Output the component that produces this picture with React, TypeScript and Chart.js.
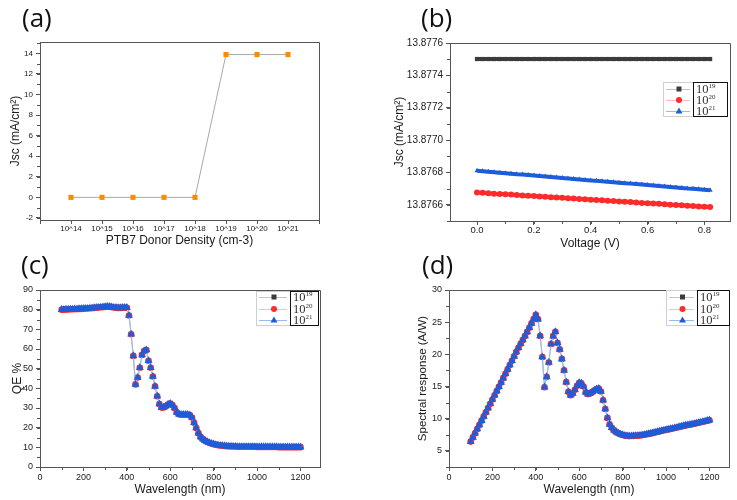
import React, { useEffect, useRef } from "react";
import { Chart, registerables } from "chart.js";
Chart.register(...registerables);
Chart.defaults.font.family = "'Liberation Sans', Arial, sans-serif";

// ---------- (a) Jsc vs PTB7 donor density ----------
const donorExponents = [14, 15, 16, 17, 18, 19, 20, 21];
const jscByDensity = [0, 0, 0, 0, 0, 13.88, 13.88, 13.88];

// ---------- (b) Jsc vs voltage ----------
const voltage = [
  0, 0.02, 0.04, 0.06, 0.08, 0.1, 0.12, 0.14, 0.16, 0.18, 0.2, 0.22, 0.24, 0.26,
  0.28, 0.3, 0.32, 0.34, 0.36, 0.38, 0.4, 0.42, 0.44, 0.46, 0.48, 0.5, 0.52, 0.54,
  0.56, 0.58, 0.6, 0.62, 0.64, 0.66, 0.68, 0.7, 0.72, 0.74, 0.76, 0.78, 0.8, 0.82,
];
const jsc19 = [
  13.877501, 13.877501, 13.877501, 13.877501, 13.877501, 13.877501, 13.877501,
  13.877501, 13.877501, 13.877501, 13.877501, 13.877501, 13.877501, 13.877501,
  13.877501, 13.877501, 13.877501, 13.877501, 13.877501, 13.877501, 13.877501,
  13.877501, 13.877501, 13.877501, 13.877501, 13.877501, 13.877501, 13.877501,
  13.877501, 13.877501, 13.877501, 13.877501, 13.877501, 13.877501, 13.877501,
  13.877501, 13.877501, 13.877501, 13.877501, 13.877501, 13.877501, 13.877501,
];
const jsc20 = [
  13.876676, 13.876674, 13.876672, 13.876669, 13.876667, 13.876665, 13.876663,
  13.876661, 13.876658, 13.876656, 13.876654, 13.876652, 13.87665, 13.876647,
  13.876645, 13.876643, 13.876641, 13.876639, 13.876636, 13.876634, 13.876632,
  13.87663, 13.876628, 13.876625, 13.876623, 13.876621, 13.876619, 13.876617,
  13.876614, 13.876612, 13.87661, 13.876608, 13.876606, 13.876603, 13.876601,
  13.876599, 13.876597, 13.876595, 13.876592, 13.87659, 13.876588, 13.876586,
];
const jsc21 = [
  13.87681, 13.876807, 13.876804, 13.876801, 13.876798, 13.876795, 13.876792,
  13.876789, 13.876787, 13.876784, 13.876781, 13.876778, 13.876775, 13.876772,
  13.876769, 13.876766, 13.876763, 13.87676, 13.876757, 13.876754, 13.876751,
  13.876748, 13.876745, 13.876743, 13.87674, 13.876737, 13.876734, 13.876731,
  13.876728, 13.876725, 13.876722, 13.876719, 13.876716, 13.876713, 13.87671,
  13.876707, 13.876704, 13.876701, 13.876699, 13.876696, 13.876693, 13.87669,
];

// ---------- (c), (d) spectra (the three doping levels overlap exactly) ----------
const wavelength = [
  100, 110, 120, 130, 140, 150, 160, 170, 180, 190, 200,
  210, 220, 230, 240, 250, 260, 270, 280, 290, 300,
  310, 320, 330, 340, 350, 360, 370, 380, 390, 400,
  410, 420, 430, 440, 450, 460, 470, 480, 490, 500,
  510, 520, 530, 540, 550, 560, 570, 580, 590, 600,
  610, 620, 630, 640, 650, 660, 670, 680, 690, 700,
  710, 720, 730, 740, 750, 760, 770, 780, 790, 800,
  810, 820, 830, 840, 850, 860, 870, 880, 890, 900,
  910, 920, 930, 940, 950, 960, 970, 980, 990, 1000,
  1010, 1020, 1030, 1040, 1050, 1060, 1070, 1080, 1090, 1100,
  1110, 1120, 1130, 1140, 1150, 1160, 1170, 1180, 1190, 1200,
];
const qePercent = [
  80.0, 80.0, 80.1, 80.1, 80.2, 80.2, 80.3, 80.3, 80.4, 80.4, 80.5,
  80.6, 80.6, 80.7, 80.8, 80.9, 81.0, 81.1, 81.2, 81.3, 81.4,
  81.5, 81.5, 81.3, 81.1, 81.0, 80.9, 80.9, 81.0, 81.0, 81.0,
  77.0, 67.5, 56.5, 42.0, 45.5, 50.5, 57.0, 59.0, 59.5, 54.0,
  50.5, 46.0, 41.0, 36.0, 32.0, 30.2, 30.3, 31.0, 31.8, 32.2,
  31.5, 30.0, 27.8, 26.8, 26.6, 26.6, 26.6, 26.6, 26.4, 25.2,
  22.5, 19.8, 17.2, 15.3, 14.2, 13.4, 12.8, 12.3, 11.9, 11.6,
  11.3, 11.1, 10.9, 10.8, 10.7, 10.6, 10.5, 10.5, 10.4, 10.4,
  10.3, 10.3, 10.3, 10.3, 10.3, 10.3, 10.3, 10.3, 10.3, 10.2,
  10.2, 10.2, 10.2, 10.2, 10.2, 10.2, 10.2, 10.2, 10.2, 10.1,
  10.1, 10.1, 10.1, 10.1, 10.1, 10.1, 10.1, 10.1, 10.1, 10.1,
];
const spectralResponse = [
  6.45, 7.1, 7.75, 8.4, 9.05, 9.7, 10.36, 11.01, 11.67, 12.32, 12.98,
  13.65, 14.3, 14.97, 15.64, 16.31, 16.98, 17.66, 18.34, 19.01, 19.69,
  20.38, 21.03, 21.64, 22.24, 22.86, 23.49, 24.14, 24.82, 25.48, 26.13,
  25.46, 22.86, 19.59, 14.9, 16.51, 18.73, 21.6, 22.84, 23.51, 21.77,
  20.77, 19.29, 17.52, 15.68, 14.19, 13.64, 13.93, 14.5, 15.13, 15.58,
  15.5, 15.0, 14.12, 13.83, 13.94, 14.16, 14.37, 14.59, 14.69, 14.23,
  12.88, 11.5, 10.13, 9.13, 8.59, 8.21, 7.95, 7.74, 7.58, 7.48,
  7.38, 7.34, 7.3, 7.32, 7.33, 7.35, 7.37, 7.41, 7.46, 7.51,
  7.57, 7.64, 7.72, 7.8, 7.88, 7.96, 8.04, 8.12, 8.2, 8.27,
  8.34, 8.41, 8.48, 8.56, 8.64, 8.72, 8.8, 8.88, 8.96, 9.02,
  9.08, 9.15, 9.22, 9.3, 9.37, 9.45, 9.53, 9.61, 9.69, 9.77,
];
const legendExponents = ["19", "20", "21"];

// ---------- styling ----------
const AXIS = "#555";
const TXT = "#1a1a1a";
const SERIES = [
  { marker: "#3c3c3c", line: "#c4c4c4", style: "rect", r: 3.4, lw: 0.8 },
  { marker: "#ff2a2a", line: "#ffbcbc", style: "circle", r: 3.3, lw: 0.8 },
  { marker: "#1f5cd9", line: "#96bcef", style: "triangle", r: 4.6, lw: 1.2 },
];

const framePlugin = {
  id: "frame",
  afterDraw(chart: any, _a: any, opts: any) {
    const { ctx, chartArea: a } = chart;
    ctx.save();
    ctx.strokeStyle = AXIS;
    ctx.lineWidth = 1;
    ctx.beginPath();
    ctx.moveTo(a.left + 0.5, a.top + 0.5);
    ctx.lineTo(a.right + 0.5, a.top + 0.5);
    ctx.lineTo(a.right + 0.5, a.bottom + 0.5);
    ctx.stroke();
    const minor = (scale: any, step: number, horiz: boolean) => {
      if (!step) return;
      const s = Math.ceil(scale.min / step - 1e-6);
      const e = Math.floor(scale.max / step + 1e-6);
      for (let k = s; k <= e; k++) {
        const p = Math.round(scale.getPixelForValue(k * step)) + 0.5;
        if (horiz) {
          ctx.moveTo(p, a.bottom);
          ctx.lineTo(p, a.bottom + 3);
        } else {
          ctx.moveTo(a.left - 3, p);
          ctx.lineTo(a.left, p);
        }
      }
    };
    ctx.beginPath();
    minor(chart.scales.x, opts.minorX, true);
    minor(chart.scales.y, opts.minorY, false);
    ctx.stroke();
    ctx.restore();
  },
};

function axis(o: any) {
  return {
    type: "linear",
    min: o.min,
    max: o.max,
    afterFit: (s: any) => {
      if (o.height !== undefined) s.height = o.height;
      if (o.width !== undefined) s.width = o.width;
    },
    grid: { display: true, drawOnChartArea: false, drawTicks: true, tickLength: 4, color: AXIS },
    border: { display: true, color: AXIS, width: 1 },
    ticks: {
      stepSize: o.step,
      includeBounds: false,
      autoSkip: false,
      maxRotation: 0,
      padding: o.tickPad ?? 3,
      color: TXT,
      font: { size: o.tickSize },
      callback: o.cb,
    },
    title: {
      display: true,
      text: o.title,
      color: TXT,
      font: { size: o.titleSize || 12 },
      padding: o.titlePad,
    },
  };
}

function baseOptions(pad: any, frame: any, x: any, y: any) {
  return {
    responsive: false,
    animation: false,
    devicePixelRatio: 1,
    layout: { padding: { left: 0, bottom: 0, ...pad } },
    plugins: { legend: { display: false }, tooltip: { enabled: false }, frame },
    scales: { x, y },
  };
}

function spectrumDatasets(values: number[]) {
  return SERIES.map((s, i) => ({
    label: "10^" + legendExponents[i],
    data: wavelength.map((w, k) => ({ x: w, y: values[k] })),
    showLine: true,
    borderColor: s.line,
    borderWidth: s.lw,
    pointStyle: s.style,
    pointRadius: s.r,
    pointBackgroundColor: s.marker,
    pointBorderColor: s.marker,
    pointBorderWidth: 0,
    order: 2 - i,
  }));
}

const configA = () => ({
  type: "scatter",
  data: {
    datasets: [
      {
        data: donorExponents.map((e, i) => ({ x: e, y: jscByDensity[i] })),
        showLine: true,
        borderColor: "#a8a8a8",
        borderWidth: 1,
        pointStyle: "rect",
        pointRadius: 3.6,
        pointBackgroundColor: "#ff8a00",
        pointBorderColor: "#ff8a00",
        pointBorderWidth: 0,
      },
    ],
  },
  options: baseOptions(
    { top: 42, right: 49 },
    { minorY: 1 },
    axis({
      min: 13, max: 22, step: 1, height: 30, tickSize: 8, tickPad: 0,
      cb: (v: number) => (donorExponents.includes(v) ? "10^" + v : ""),
      title: "PTB7 Donor Density (cm-3)", titlePad: { top: 0, bottom: 2 },
    }),
    axis({
      min: -2.2, max: 15.1, step: 2, width: 40, tickSize: 8,
      title: "Jsc (mA/cm²)", titlePad: { top: 8, bottom: 0 },
    })
  ),
  plugins: [framePlugin],
});

const configB = () => ({
  type: "scatter",
  data: {
    datasets: [jsc19, jsc20, jsc21].map((vals, i) => ({
      label: "10^" + legendExponents[i],
      data: voltage.map((v, k) => ({ x: v, y: vals[k] })),
      showLine: true,
      borderColor: SERIES[i].marker,
      borderWidth: 4,
      pointStyle: SERIES[i].style,
      pointRadius: 3,
      pointBackgroundColor: SERIES[i].marker,
      pointBorderColor: SERIES[i].marker,
      pointBorderWidth: 0,
      order: 2 - i,
    })),
  },
  options: baseOptions(
    { top: 43, right: 7 },
    { minorX: 0.1, minorY: 0.0001 },
    axis({
      min: -0.095, max: 0.89, step: 0.2, height: 29, tickSize: 9.5, tickPad: 0,
      cb: (v: number) => v.toFixed(1),
      title: "Voltage (V)", titlePad: { top: 0, bottom: -1 },
    }),
    axis({
      min: 13.8765, max: 13.8776, step: 0.0002, width: 82, tickSize: 10,
      cb: (v: number) => v.toFixed(4),
      title: "Jsc (mA/cm²)", titlePad: { top: 24, bottom: 0 },
    })
  ),
  plugins: [framePlugin],
});

const configC = () => ({
  type: "scatter",
  data: { datasets: spectrumDatasets(qePercent) },
  options: baseOptions(
    { top: 40, right: 48 },
    { minorX: 100, minorY: 5 },
    axis({
      min: 0, max: 1290, step: 200, height: 33, tickSize: 9, tickPad: 1,
      title: "Wavelength (nm)", titlePad: { top: 0, bottom: 3 },
    }),
    axis({
      min: 0, max: 90, step: 10, width: 40, tickSize: 9,
      title: "QE %", titlePad: { top: 10, bottom: 0 },
    })
  ),
  plugins: [framePlugin],
});

const configD = () => ({
  type: "scatter",
  data: { datasets: spectrumDatasets(spectralResponse) },
  options: baseOptions(
    { top: 40, right: 8 },
    { minorX: 100, minorY: 2.5 },
    axis({
      min: 0, max: 1290, step: 200, height: 33, tickSize: 9, tickPad: 1,
      title: "Wavelength (nm)", titlePad: { top: 0, bottom: 3 },
    }),
    axis({
      min: 2.5, max: 30, step: 5, width: 81, tickSize: 9,
      title: "Spectral response (A/W)", titleSize: 11.5, titlePad: { top: 48, bottom: 0 },
    })
  ),
  plugins: [framePlugin],
});

function ChartPanel(props: { left: number; top: number; width: number; height: number; make: () => any }) {
  const ref = useRef<HTMLCanvasElement>(null);
  useEffect(() => {
    const chart = new Chart(ref.current as HTMLCanvasElement, props.make());
    return () => chart.destroy();
  }, []);
  return (
    <canvas
      ref={ref}
      width={props.width}
      height={props.height}
      style={{ position: "absolute", left: props.left, top: props.top, width: props.width, height: props.height }}
    />
  );
}

function PanelTag(props: { text: string; left: number; top: number }) {
  return (
    <div
      style={{
        position: "absolute", left: props.left, top: props.top,
        fontFamily: "'Open Sans', 'Noto Sans', sans-serif", fontSize: 26, lineHeight: "30px", color: "#111",
      }}
    >
      {props.text}
    </div>
  );
}

function Marker(props: { style: string; color: string; cx: number; cy: number }) {
  const { style, color, cx, cy } = props;
  if (style === "rect") return <rect x={cx - 2.5} y={cy - 2.5} width={5} height={5} fill={color} />;
  if (style === "circle") return <circle cx={cx} cy={cy} r={3} fill={color} />;
  return <polygon points={`${cx - 3.5},${cy + 2.5} ${cx + 3.5},${cy + 2.5} ${cx},${cy - 3.5}`} fill={color} />;
}

function Legend(props: { left: number; top: number; width: number; height: number; boxLeft: number; rows: number[] }) {
  const { left, top, width, height, boxLeft, rows } = props;
  return (
    <div style={{ position: "absolute", left, top, width, height, background: "#fff", border: "1px solid #cfcfcf", boxSizing: "border-box" }}>
      <svg width={width} height={height} style={{ position: "absolute", left: 0, top: 0 }}>
        {rows.map((y, i) => (
          <g key={i}>
            <line x1={2} x2={boxLeft - 3} y1={y + 0.5} y2={y + 0.5} stroke={SERIES[i].line} strokeWidth={1} />
            <Marker style={SERIES[i].style} color={SERIES[i].marker} cx={(boxLeft - 1) / 2 + 1} cy={y} />
          </g>
        ))}
      </svg>
      <div
        style={{
          position: "absolute", left: boxLeft, top: -1, right: -1, bottom: -1,
          border: "1.5px solid #111", boxSizing: "border-box",
        }}
      />
      {rows.map((y, i) => (
        <div
          key={i}
          style={{
            position: "absolute", left: boxLeft + 3, top: y - 7, height: 14, lineHeight: "14px",
            fontFamily: "'Liberation Serif', 'DejaVu Serif', serif", fontSize: 12.5, color: "#333", whiteSpace: "nowrap",
          }}
        >
          10<sup style={{ fontSize: 7, verticalAlign: "top", lineHeight: "9px" }}>{legendExponents[i]}</sup>
        </div>
      ))}
    </div>
  );
}

export default function App() {
  return (
    <div style={{ position: "fixed", left: 0, top: 0, width: 737, height: 500, background: "#fff", overflow: "hidden" }}>
      <ChartPanel left={0} top={0} width={368} height={250} make={configA} />
      <ChartPanel left={368} top={0} width={369} height={250} make={configB} />
      <ChartPanel left={0} top={250} width={368} height={250} make={configC} />
      <ChartPanel left={368} top={250} width={369} height={250} make={configD} />
      <PanelTag text="(a)" left={22} top={2} />
      <PanelTag text="(b)" left={421} top={2} />
      <PanelTag text="(c)" left={21} top={249} />
      <PanelTag text="(d)" left={422} top={249} />
      <Legend left={663} top={82} width={65} height={35} boxLeft={29} rows={[6, 17, 28]} />
      <Legend left={256} top={291} width={63} height={35} boxLeft={33} rows={[5, 17, 28]} />
      <Legend left={666} top={290} width={64} height={36} boxLeft={30} rows={[6, 18, 29]} />
    </div>
  );
}
